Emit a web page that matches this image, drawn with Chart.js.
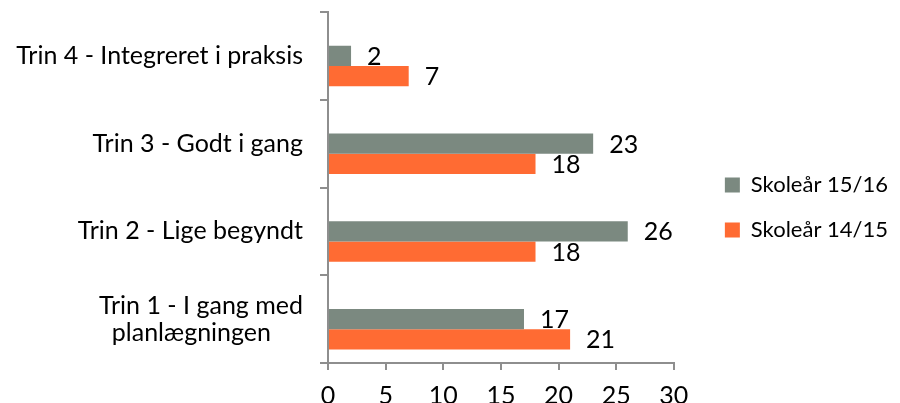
<!DOCTYPE html>
<html>
<head>
<meta charset="utf-8">
<script src="https://cdn.jsdelivr.net/npm/chart.js@4.4.0/dist/chart.umd.min.js"></script>
<style>
  html, body { margin: 0; padding: 0; background: #fff; }
  #wrap { width: 900px; height: 403px; }
</style>
</head>
<body>
<div id="wrap"><canvas id="chart"></canvas></div>
<script>
// chart data
const categories = [
  'Trin 4 - Integreret i praksis',
  'Trin 3 - Godt i gang',
  'Trin 2 - Lige begyndt',
  ['Trin 1 - I gang med', 'planlægningen\u00a0\u00a0\u00a0\u00a0\u00a0']
];
const seriesNames = ['Skoleår 15/16', 'Skoleår 14/15'];
const values1516 = [2, 23, 26, 17];
const values1415 = [7, 18, 18, 21];
const xTicks = [0, 5, 10, 15, 20, 25, 30];

const FONT = 'Lato';
const SIZE = 25;
const axisColor = '#8e8e8e';

// draws the numbers to the right of each bar
const valueLabels = {
  id: 'valueLabels',
  afterDatasetsDraw(chart) {
    const ctx = chart.ctx;
    ctx.save();
    ctx.font = SIZE + 'px ' + FONT;
    ctx.fillStyle = '#000';
    ctx.textAlign = 'left';
    ctx.textBaseline = 'middle';
    chart.data.datasets.forEach((ds, i) => {
      if (ds.spacer) return;
      chart.getDatasetMeta(i).data.forEach((bar, j) => {
        ctx.fillText(String(ds.data[j]), bar.x + 16, bar.y + 1);
      });
    });
    ctx.restore();
  }
};

// pushes the legend a bit away from the plot
const legendGap = {
  id: 'legendGap',
  afterLayout(chart) {
    chart.legend.left += 28;
    chart.legend.right += 28;
  }
};

new Chart(document.getElementById('chart'), {
  type: 'bar',
  data: {
    labels: categories,
    datasets: [
      // empty spacer so the pair of bars sits a little below the category centre
      { label: '', data: categories.map(() => null), spacer: true },
      { label: seriesNames[0], data: values1516, backgroundColor: '#7b8980' },
      { label: seriesNames[1], data: values1415, backgroundColor: '#ff6b33' }
    ]
  },
  options: {
    indexAxis: 'y',
    responsive: true,
    maintainAspectRatio: false,
    animation: false,
    categoryPercentage: 0.69,
    barPercentage: 1,
    layout: { padding: { top: 12, right: 30, bottom: 0, left: 0 } },
    plugins: {
      tooltip: { enabled: false },
      legend: {
        position: 'right',
        align: 'center',
        labels: {
          filter: item => item.datasetIndex > 0,
          boxWidth: 15,
          boxHeight: 15,
          padding: 23,
          color: '#000',
          font: { family: FONT, size: 22 }
        }
      }
    },
    scales: {
      x: {
        min: xTicks[0],
        max: xTicks[xTicks.length - 1],
        afterBuildTicks: scale => { scale.ticks = xTicks.map(v => ({ value: v })); },
        afterFit: scale => { scale.height = 40; scale.paddingLeft = 0; scale.paddingRight = 0; },
        ticks: { color: '#000', font: { family: FONT, size: SIZE, lineHeight: 1 }, padding: 13 },
        grid: { drawOnChartArea: false, tickLength: 7, color: axisColor, lineWidth: 2 },
        border: { color: axisColor, width: 2 }
      },
      y: {
        afterFit: scale => { scale.width = 328; scale.paddingTop = 0; scale.paddingBottom = 0; },
        ticks: { color: '#000', font: { family: FONT, size: SIZE, lineHeight: 1.08 }, padding: 17, crossAlign: 'near' },
        grid: { drawOnChartArea: false, tickLength: 8, color: axisColor, lineWidth: 2, offset: true },
        border: { color: axisColor, width: 2 }
      }
    }
  },
  plugins: [valueLabels, legendGap]
});
</script>
</body>
</html>
